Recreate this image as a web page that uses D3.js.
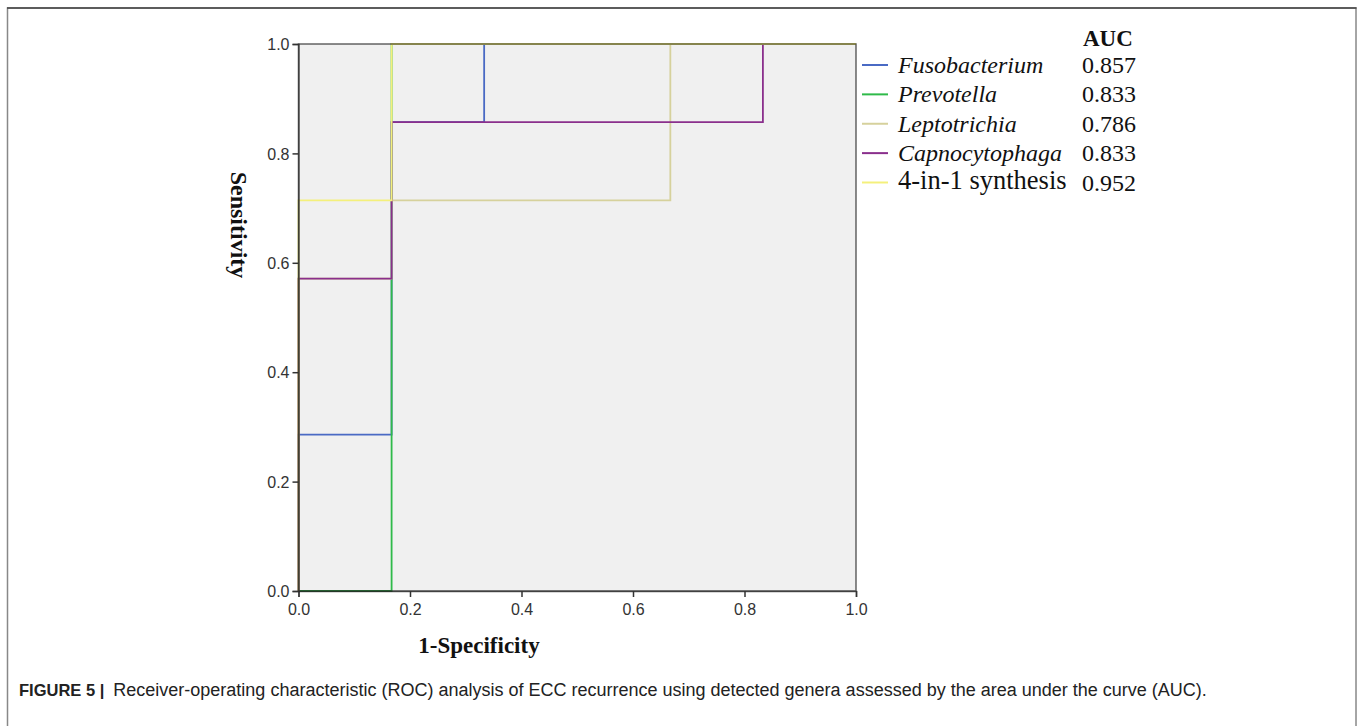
<!DOCTYPE html>
<html lang="en">
<head>
<meta charset="UTF-8">
<title>ROC analysis of ECC recurrence</title>
<script src="https://d3js.org/d3.v7.min.js"></script>
<style>
  body { margin: 0; background: #fff; }
  .tick text { font-family: "Liberation Sans", Arial, sans-serif; font-size: 16px; fill: #333; }
</style>
</head>
<body>
<svg width="1358" height="726" id="chart"></svg>
<script>
    const width = 1358;
    const height = 726;
    const svg = d3.select("#chart");

    // series and legend values
    const seriesNames = ["Fusobacterium", "Prevotella", "Leptotrichia", "Capnocytophaga", "4-in-1 synthesis"];
    const aucValues = ["0.857", "0.833", "0.786", "0.833", "0.952"];
    const seriesColors = ["#4a6ac4", "#2fba4a", "#d6d19c", "#8a2f8c", "#f4f07c"];

    // ROC steps: [1-specificity, sensitivity]
    const fusobacteriumROC = [[0, 0], [0, 0.286], [0.167, 0.286], [0.167, 0.857], [0.333, 0.857], [0.333, 1], [1, 1]];
    const prevotellaROC = [[0, 0], [0.167, 0], [0.167, 1], [1, 1]];
    const leptotrichiaROC = [[0, 0], [0, 0.571], [0.167, 0.571], [0.167, 0.714], [0.667, 0.714], [0.667, 1], [1, 1]];
    const capnocytophagaROC = [[0, 0], [0, 0.571], [0.167, 0.571], [0.167, 0.857], [0.833, 0.857], [0.833, 1], [1, 1]];
    const synthesisROC = [[0, 0], [0, 0.714], [0.167, 0.714], [0.167, 1], [1, 1]];
    const rocSeries = [fusobacteriumROC, prevotellaROC, leptotrichiaROC, capnocytophagaROC, synthesisROC];

    const tickValues = [0, 0.2, 0.4, 0.6, 0.8, 1.0];
    const captionBold = "FIGURE 5 |";
    const captionText = "Receiver-operating characteristic (ROC) analysis of ECC recurrence using detected genera assessed by the area under the curve (AUC).";

    // outer figure frame
    svg.append("rect")
        .attr("x", 7.5).attr("y", 8)
        .attr("width", 1348.5).attr("height", 730)
        .attr("fill", "none")
        .attr("stroke", "#888")
        .attr("stroke-width", 1.5);
    svg.append("line")
        .attr("x1", 7).attr("x2", 1356.5).attr("y1", 8).attr("y2", 8)
        .attr("stroke", "#444").attr("stroke-width", 1.5);

    const x = d3.scaleLinear().domain([0, 1]).range([298.5, 856]);
    const y = d3.scaleLinear().domain([0, 1]).range([591, 44]);

    // plot background
    svg.append("rect")
        .attr("x", x(0)).attr("y", y(1))
        .attr("width", x(1) - x(0)).attr("height", y(0) - y(1))
        .attr("fill", "#f0f0f0");

    const line = d3.line()
        .x(d => x(d[0]))
        .y(d => y(d[1]));

    // curves, drawn in legend order (later ones on top)
    svg.selectAll("path.roc")
        .data(rocSeries)
        .enter().append("path")
        .attr("class", "roc")
        .attr("d", line)
        .attr("fill", "none")
        .attr("stroke", (_, i) => seriesColors[i])
        .attr("stroke-width", 1.8);

    // plot border over the curves
    svg.append("rect")
        .attr("x", x(0)).attr("y", y(1))
        .attr("width", x(1) - x(0)).attr("height", y(0) - y(1))
        .attr("fill", "none")
        .attr("stroke", "#222")
        .attr("stroke-opacity", 0.7)
        .attr("stroke-width", 1.5);

    // axes
    const xAxis = svg.append("g")
        .attr("transform", `translate(0,${y(0)})`)
        .call(d3.axisBottom(x).tickValues(tickValues).tickFormat(d3.format(".1f")).tickSize(6).tickPadding(7));
    const yAxis = svg.append("g")
        .attr("transform", `translate(${x(0)},0)`)
        .call(d3.axisLeft(y).tickValues(tickValues).tickFormat(d3.format(".1f")).tickSize(6).tickPadding(3));
    [xAxis, yAxis].forEach(g => {
        g.select(".domain").attr("stroke", "#222").attr("stroke-opacity", 0.7).attr("stroke-width", 1.5);
        g.selectAll(".tick line").attr("stroke", "#333").attr("stroke-width", 1.5);
    });
    yAxis.selectAll(".tick text").attr("dy", "0.36em");

    // axis titles
    svg.append("text")
        .attr("x", 479).attr("y", 653)
        .attr("text-anchor", "middle")
        .attr("font-family", "'Liberation Serif', 'Times New Roman', serif")
        .attr("font-weight", "bold")
        .attr("font-size", "23px")
        .attr("fill", "#111")
        .text("1-Specificity");

    svg.append("text")
        .attr("transform", "translate(231,225) rotate(90)")
        .attr("text-anchor", "middle")
        .attr("font-family", "'Liberation Serif', 'Times New Roman', serif")
        .attr("font-weight", "bold")
        .attr("font-size", "24px")
        .attr("fill", "#111")
        .text("Sensitivity");

    // legend
    const legendY = d3.scaleLinear().domain([0, 4]).range([65, 182.5]);
    const serif = "'Liberation Serif', 'Times New Roman', serif";

    svg.append("text")
        .attr("x", 1083).attr("y", 46)
        .attr("font-family", serif)
        .attr("font-weight", "bold")
        .attr("font-size", "23px")
        .attr("fill", "#111")
        .text("AUC");

    const legend = svg.selectAll("g.legend")
        .data(seriesNames)
        .enter().append("g")
        .attr("class", "legend")
        .attr("transform", (_, i) => `translate(0,${legendY(i)})`);

    legend.append("line")
        .attr("x1", 862).attr("x2", 888)
        .attr("stroke", (_, i) => seriesColors[i])
        .attr("stroke-width", 2);

    legend.append("text")
        .attr("x", 898)
        .attr("y", (_, i) => i === 4 ? 6.5 : 8)
        .attr("font-family", serif)
        .attr("font-style", (_, i) => i === 4 ? "normal" : "italic")
        .attr("font-size", (_, i) => i === 4 ? "26.5px" : "24px")
        .attr("fill", "#111")
        .text(d => d);

    legend.append("text")
        .attr("x", 1082).attr("y", 8)
        .attr("font-family", serif)
        .attr("font-size", "24px")
        .attr("fill", "#111")
        .text((_, i) => aucValues[i]);

    // caption
    const caption = svg.append("text")
        .attr("x", 19).attr("y", 696)
        .attr("font-family", "'Liberation Sans', Arial, sans-serif")
        .attr("font-size", "18px")
        .attr("fill", "#222");
    caption.append("tspan").attr("font-weight", "bold").attr("font-size", "16.5px").text(captionBold);
    caption.append("tspan").attr("dx", 4).text(" " + captionText);
</script>
</body>
</html>
